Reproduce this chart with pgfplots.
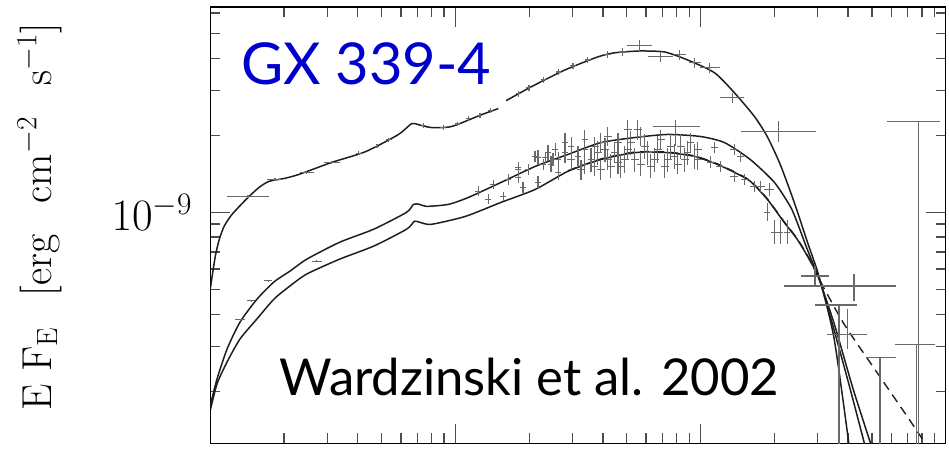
\RequirePackage{fix-cm}
\documentclass[border=0pt]{standalone}
\usepackage{pgfplots}
\pgfplotsset{compat=1.18}
\usepackage{fontspec}
\newfontfamily\notefont{Lato}
\definecolor{gxblue}{RGB}{0,0,204}
\definecolor{datagray}{RGB}{105,105,105}
\definecolor{modelblack}{RGB}{30,30,30}
\begin{document}
\begin{tikzpicture}
\begin{axis}[
  at={(0pt,0pt)}, anchor=south west,
  scale only axis, width=738pt, height=438pt,
  xmin=0, xmax=3, ymin=-9.903, ymax=-8.198,
  xtick={0,1,2,3}, xticklabels={},
  minor xtick={0.301,0.477,0.602,0.699,0.778,0.845,0.903,0.954,
               1.301,1.477,1.602,1.699,1.778,1.845,1.903,1.954,
               2.301,2.477,2.602,2.699,2.778,2.845,2.903,2.954},
  ytick={-9}, yticklabels={$10^{-9}$},
  minor ytick={-9.699,-9.523,-9.398,-9.301,-9.222,-9.155,-9.097,-9.046,
               -8.699,-8.523,-8.398,-8.301,-8.222},
  major tick length=20pt, minor tick length=10pt,
  tick style={line width=1.3pt, color=black!70},
  axis line style={line width=1.4pt},
  yticklabel style={font=\fontsize{45}{50}\selectfont, inner sep=0pt, xshift=-18pt},
  ylabel={E F$_{\mathrm{E}}$\hspace{0.45em} [erg\hspace{0.45em} cm$^{-2}$\hspace{0.45em} s$^{-1}$]},
  ylabel style={font=\fontsize{42}{44}\selectfont, at={(axis description cs:-0.2317,0.519)}, anchor=center},
  clip=true,
]
% ---------- top spectrum model ----------
\addplot[modelblack, line width=1.5pt, smooth, tension=0.4] coordinates {
(0.000,-9.300)(0.020,-9.175)(0.037,-9.105)(0.057,-9.054)(0.089,-9.008)(0.150,-8.946)
(0.199,-8.903)(0.240,-8.879)(0.301,-8.868)(0.362,-8.852)(0.496,-8.805)(0.634,-8.763)
(0.768,-8.696)(0.821,-8.654)(0.850,-8.658)(0.902,-8.669)(0.984,-8.665)(1.106,-8.619)(1.175,-8.595)};
\addplot[modelblack, line width=1.5pt, smooth, tension=0.4] coordinates {
(1.207,-8.564)(1.309,-8.510)(1.447,-8.444)(1.581,-8.393)(1.650,-8.377)(1.752,-8.370)
(1.854,-8.374)(1.947,-8.405)(2.057,-8.455)(2.138,-8.533)(2.220,-8.626)(2.272,-8.704)
(2.325,-8.813)(2.382,-8.961)(2.439,-9.125)(2.484,-9.253)(2.545,-9.494)(2.606,-9.911)};
% ---------- lower spectrum A ----------
\addplot[modelblack, line width=1.5pt, smooth, tension=0.4] coordinates {
(0.000,-9.755)(0.028,-9.650)(0.069,-9.533)(0.122,-9.428)(0.191,-9.339)(0.260,-9.272)
(0.325,-9.230)(0.394,-9.183)(0.528,-9.117)(0.667,-9.066)(0.801,-9.000)(0.829,-8.969)
(0.854,-8.969)(0.882,-8.977)(0.972,-8.969)(1.053,-8.942)(1.187,-8.883)(1.325,-8.821)
(1.459,-8.774)(1.593,-8.728)(1.732,-8.708)(1.866,-8.696)(2.000,-8.704)(2.098,-8.728)
(2.203,-8.794)(2.301,-8.883)(2.366,-8.977)(2.394,-9.039)(2.435,-9.144)(2.484,-9.261)
(2.549,-9.447)(2.622,-9.689)(2.707,-9.942)};
% ---------- lower spectrum B ----------
\addplot[modelblack, line width=1.5pt, smooth, tension=0.4] coordinates {
(0.000,-9.774)(0.028,-9.669)(0.069,-9.584)(0.122,-9.494)(0.191,-9.416)(0.260,-9.339)
(0.325,-9.288)(0.394,-9.241)(0.528,-9.183)(0.667,-9.132)(0.801,-9.066)(0.833,-9.035)
(0.854,-9.039)(0.902,-9.047)(1.041,-9.016)(1.187,-8.961)(1.325,-8.911)(1.459,-8.840)
(1.593,-8.794)(1.732,-8.767)(1.866,-8.767)(1.976,-8.782)(2.069,-8.813)(2.138,-8.844)
(2.203,-8.879)(2.272,-8.949)(2.341,-9.039)(2.394,-9.105)(2.443,-9.183)(2.484,-9.261)
(2.541,-9.447)(2.610,-9.689)(2.679,-9.942)};
% ---------- dashed model (follows B, then a harder tail) ----------
\addplot[modelblack, line width=1.4pt, dash pattern=on 9pt off 6pt, smooth, tension=0.4] coordinates {
(1.459,-8.838)(1.593,-8.792)(1.732,-8.765)(1.866,-8.765)
(1.976,-8.780)(2.069,-8.811)(2.138,-8.842)(2.203,-8.877)(2.272,-8.947)(2.341,-9.037)
(2.394,-9.103)(2.443,-9.180)(2.484,-9.261)(2.585,-9.436)(2.720,-9.626)(2.854,-9.813)(2.963,-9.969)};
% ---------- top spectrum data ----------
\addplot[draw=none, mark=none, error bars/.cd, x dir=both, x explicit, y dir=both, y explicit,
  error mark=none, error bar style={datagray, line width=1.2pt}] coordinates {
(0.154,-8.938) +- (0.085,0.006)
(0.264,-8.872) +- (0.033,0.006)
(0.394,-8.844) +- (0.028,0.006)
(0.496,-8.805) +- (0.033,0.006)
(0.606,-8.770) +- (0.012,0.008)
(0.680,-8.742) +- (0.010,0.008)
(0.728,-8.716) +- (0.012,0.008)
(0.870,-8.661) +- (0.012,0.008)
(0.951,-8.669) +- (0.012,0.008)
(1.010,-8.655) +- (0.010,0.008)
(1.053,-8.634) +- (0.010,0.010)
(1.100,-8.622) +- (0.010,0.010)
(1.142,-8.603) +- (0.010,0.010)
(1.256,-8.537) +- (0.010,0.012)
(1.300,-8.513) +- (0.010,0.012)
(1.358,-8.482) +- (0.010,0.012)
(1.420,-8.452) +- (0.010,0.012)
(1.480,-8.428) +- (0.012,0.012)
(1.540,-8.405) +- (0.012,0.012)
(1.622,-8.385) +- (0.014,0.014)
(1.683,-8.374) +- (0.014,0.014)
(1.752,-8.350) +- (0.051,0.023)
(1.837,-8.393) +- (0.051,0.021)
(1.915,-8.385) +- (0.024,0.020)
(1.976,-8.416) +- (0.024,0.020)
(2.037,-8.436) +- (0.041,0.020)
(2.130,-8.553) +- (0.049,0.019)
(2.317,-8.685) +- (0.152,0.041)
};
% ---------- lower spectra data ----------
\addplot[draw=none, mark=none, error bars/.cd, x dir=both, x explicit, y dir=both, y explicit,
  error mark=none, error bar style={datagray, line width=1.2pt}] coordinates {
(0.122,-9.420) +- (0.020,0.004)
(0.167,-9.346) +- (0.016,0.004)
(0.236,-9.268) +- (0.016,0.004)
(0.435,-9.191) +- (0.020,0.004)
(1.093,-8.918) +- (0.012,0.019)
(1.154,-8.891) +- (0.012,0.019)
(1.215,-8.872) +- (0.012,0.023)
(1.256,-8.864) +- (0.012,0.023)
(1.297,-8.833) +- (0.012,0.023)
(1.358,-8.813) +- (0.012,0.023)
(1.398,-8.794) +- (0.012,0.027)
(1.134,-8.949) +- (0.012,0.019)
(1.195,-8.938) +- (0.012,0.019)
(1.276,-8.903) +- (0.012,0.023)
(1.337,-8.883) +- (0.012,0.023)
(1.256,-8.825) +- (0.012,0.019)
(1.325,-8.782) +- (0.012,0.023)
(1.366,-8.786) +- (0.012,0.023)
(1.407,-8.755) +- (0.012,0.027)
(1.447,-8.728) +- (0.012,0.039)
(1.528,-8.716) +- (0.012,0.039)
(1.447,-8.767) +- (0.012,0.039)
(1.528,-8.755) +- (0.012,0.039)
(1.569,-8.821) +- (0.012,0.039)
(1.593,-8.728) +- (0.012,0.039)
(1.622,-8.794) +- (0.016,0.039)
(1.663,-8.805) +- (0.016,0.047)
(1.703,-8.755) +- (0.016,0.039)
(1.732,-8.794) +- (0.016,0.047)
(1.756,-8.704) +- (0.016,0.039)
(1.785,-8.767) +- (0.016,0.047)
(1.813,-8.794) +- (0.016,0.047)
(1.854,-8.821) +- (0.016,0.047)
(1.894,-8.782) +- (0.016,0.047)
(1.919,-8.743) +- (0.016,0.047)
(1.947,-8.767) +- (0.016,0.047)
(1.976,-8.782) +- (0.016,0.047)
(1.663,-8.728) +- (0.016,0.039)
(1.622,-8.704) +- (0.016,0.039)
(1.703,-8.677) +- (0.016,0.039)
(1.744,-8.677) +- (0.016,0.039)
(1.569,-8.743) +- (0.016,0.039)
(1.512,-8.833) +- (0.016,0.039)
(1.419,-8.844) +- (0.012,0.031)
(1.337,-8.786) +- (0.012,0.031)
(1.378,-8.767) +- (0.012,0.031)
(1.256,-8.833) +- (0.012,0.031)
(1.472,-8.794) +- (0.016,0.039)
(1.675,-8.821) +- (0.016,0.047)
(1.866,-8.794) +- (0.016,0.047)
(1.797,-8.821) +- (0.016,0.047)
(1.650,-8.767) +- (0.016,0.039)
(1.472,-8.743) +- (0.012,0.039)
(1.500,-8.782) +- (0.012,0.039)
(1.553,-8.794) +- (0.012,0.047)
(1.581,-8.767) +- (0.016,0.047)
(1.610,-8.755) +- (0.016,0.047)
(1.634,-8.821) +- (0.016,0.047)
(1.691,-8.794) +- (0.016,0.054)
(1.715,-8.728) +- (0.016,0.047)
(1.772,-8.743) +- (0.016,0.047)
(1.825,-8.755) +- (0.016,0.054)
(1.837,-8.716) +- (0.016,0.039)
(1.878,-8.743) +- (0.016,0.047)
(1.935,-8.794) +- (0.016,0.047)
(1.959,-8.728) +- (0.016,0.039)
(1.988,-8.794) +- (0.016,0.039)
(1.593,-8.833) +- (0.016,0.039)
(1.756,-8.813) +- (0.016,0.047)
(1.907,-8.813) +- (0.016,0.039)
(1.419,-8.794) +- (0.012,0.031)
(1.390,-8.813) +- (0.012,0.031)
(1.528,-8.813) +- (0.012,0.039)
(1.988,-8.755) +- (0.016,0.031)
(2.057,-8.747) +- (0.016,0.023)
(2.138,-8.755) +- (0.016,0.023)
(2.163,-8.782) +- (0.016,0.023)
(2.041,-8.805) +- (0.016,0.023)
(2.081,-8.821) +- (0.016,0.023)
(2.138,-8.860) +- (0.016,0.023)
(2.179,-8.872) +- (0.016,0.023)
(2.220,-8.899) +- (0.020,0.023)
(2.244,-8.899) +- (0.020,0.023)
(2.280,-8.911) +- (0.020,0.027)
(2.272,-9.000) +- (0.012,0.035)
(2.301,-9.078) +- (0.012,0.047)
(2.325,-9.078) +- (0.012,0.047)
(2.354,-9.078) +- (0.012,0.047)
(2.467,-9.249) +- (0.057,0.039)
(1.898,-8.665) += (0.098,0.027) -= (0.093,0.078)
(2.626,-9.288) += (0.171,0.047) -= (0.285,0.058)
(2.598,-9.479) += (0.081,0.101) -= (0.081,0.054)
};
% ---------- high-energy bars reaching below the frame ----------
\addplot[draw=none, mark=none, error bars/.cd, x dir=both, x explicit, y dir=both, y explicit,
  error mark=none, error bar style={datagray, line width=1.2pt}] coordinates {
(2.565,-9.362) += (0.073,0) -= (0.098,1)
(2.732,-9.568) += (0.065,0) -= (0.057,1)
(2.882,-9.518) += (0.073,0) -= (0.089,1)
(2.890,-8.646) += (0.086,0) -= (0.130,2)
};
\node[anchor=base west, inner sep=0pt, text=gxblue, font=\notefont\fontsize{58}{60}\selectfont]
  at (axis description cs:0.042,0.822) {GX 339-4};
\node[anchor=base west, inner sep=0pt, font=\notefont\fontsize{51}{54}\selectfont]
  at (axis description cs:0.0935,0.1096) {Wardzinski et al. 2002};
\end{axis}
\path[use as bounding box] (-211pt,-2pt) rectangle (738pt,445pt);
\end{tikzpicture}
\end{document}
